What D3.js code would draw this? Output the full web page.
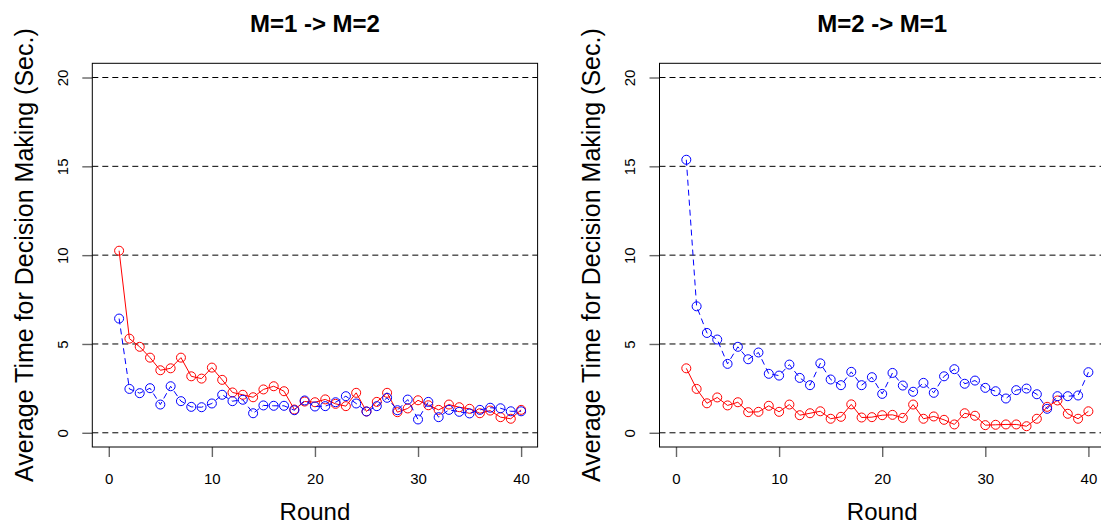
<!DOCTYPE html>
<html>
<head>
<meta charset="utf-8">
<script src="https://cdn.jsdelivr.net/npm/d3@7"></script>
<style>
  body { margin: 0; background: #fff; }
  svg { display: block; font-family: "Liberation Sans", Arial, Helvetica, sans-serif; }
</style>
</head>
<body>
<svg width="1101" height="525"></svg>
<script>
var rounds = [1, 2, 3, 4, 5, 6, 7, 8, 9, 10, 11, 12, 13, 14, 15, 16, 17, 18, 19, 20,
              21, 22, 23, 24, 25, 26, 27, 28, 29, 30, 31, 32, 33, 34, 35, 36, 37, 38, 39, 40];

var xTicks = [0, 10, 20, 30, 40];
var yTicks = [0, 5, 10, 15, 20];
var titles = ["M=1 -> M=2", "M=2 -> M=1"];

// M=1 -> M=2
var leftRed = [10.25, 5.3, 4.84, 4.23, 3.52, 3.63, 4.23, 3.18, 3.05, 3.67,
               2.98, 2.27, 2.14, 2.0, 2.44, 2.62, 2.34, 1.31, 1.76, 1.72,
               1.88, 1.63, 1.5, 2.25, 1.2, 1.74, 2.25, 1.16, 1.37, 1.83,
               1.55, 1.29, 1.59, 1.44, 1.35, 1.1, 1.25, 0.88, 0.79, 1.29];
var leftBlue = [6.43, 2.47, 2.23, 2.51, 1.59, 2.62, 1.78, 1.46, 1.44, 1.65,
                2.14, 1.78, 1.86, 1.10, 1.54, 1.52, 1.52, 1.27, 1.82, 1.48,
                1.5, 1.72, 2.06, 1.65, 1.2, 1.5, 1.97, 1.27, 1.87, 0.75,
                1.74, 0.88, 1.29, 1.18, 1.09, 1.29, 1.41, 1.38, 1.21, 1.21];

// M=2 -> M=1
var rightRed = [3.63, 2.47, 1.66, 1.99, 1.54, 1.72, 1.16, 1.18, 1.52, 1.18,
                1.59, 0.99, 1.1, 1.21, 0.79, 0.9, 1.6, 0.86, 0.88, 0.99,
                1.01, 0.84, 1.59, 0.79, 0.92, 0.73, 0.47, 1.1, 0.96, 0.43,
                0.45, 0.47, 0.47, 0.37, 0.79, 1.46, 1.82, 1.07, 0.79, 1.21];
var rightBlue = [15.37, 7.12, 5.62, 5.25, 3.88, 4.84, 4.14, 4.52, 3.32, 3.22,
                 3.84, 3.09, 2.68, 3.91, 3.0, 2.68, 3.43, 2.68, 3.13, 2.19,
                 3.37, 2.66, 2.31, 2.81, 2.25, 3.18, 3.58, 2.76, 2.94, 2.53,
                 2.34, 1.93, 2.4, 2.49, 2.17, 1.35, 2.06, 2.06, 2.1, 3.41];

(function () {
  'use strict';

  var svg = d3.select("svg"),
      top = 63.3,
      bottom = 447;

  var panels = [
    { left: 92.3, right: 537.6, title: titles[0], red: leftRed, blue: leftBlue },
    { left: 659.5, right: 1104.9, title: titles[1], red: rightRed, blue: rightBlue }
  ];

  var y = d3.scaleLinear().domain([-0.8, 20.8]).range([bottom, top]);

  panels.forEach(drawPanel);

  function drawPanel(p) {
    var x = d3.scaleLinear().domain([-1.6, 41.6]).range([p.left, p.right]);
    var g = svg.append("g");
    var cx = (p.left + p.right) / 2;

    // reference lines
    g.selectAll(".hline")
      .data(yTicks)
      .enter().append("line")
        .attr("x1", p.left).attr("x2", p.right)
        .attr("y1", function(d) { return y(d); })
        .attr("y2", function(d) { return y(d); })
        .attr("stroke", "#000")
        .attr("stroke-width", 1)
        .attr("stroke-dasharray", "6,4");

    // x axis
    var xa = g.append("g")
        .attr("transform", "translate(0," + bottom + ")")
        .call(d3.axisBottom(x).tickValues(xTicks).tickSize(10).tickPadding(16));
    xa.select(".domain").remove();
    xa.selectAll("line").attr("stroke", "#666").attr("stroke-width", 1.4);
    xa.selectAll("text").attr("font-size", 15).attr("font-family", null).attr("fill", "#000");

    // y axis
    var ya = g.append("g")
        .attr("transform", "translate(" + p.left + ",0)")
        .call(d3.axisLeft(y).tickValues(yTicks).tickSize(10));
    ya.select(".domain").remove();
    ya.selectAll("line").attr("stroke", "#666").attr("stroke-width", 1.4);
    ya.selectAll("text")
        .attr("x", null).attr("dy", null)
        .attr("transform", "translate(-24.5,0) rotate(-90)")
        .attr("text-anchor", "middle")
        .attr("font-size", 15).attr("font-family", null).attr("fill", "#000");

    // box
    g.append("rect")
        .attr("x", p.left).attr("y", top)
        .attr("width", p.right - p.left).attr("height", bottom - top)
        .attr("fill", "none").attr("stroke", "#000").attr("stroke-width", 1);

    drawSeries(g, x, p.red, "#ff0000", null);
    drawSeries(g, x, p.blue, "#0000ff", "6,4");

    g.append("text")
        .attr("x", cx).attr("y", 32)
        .attr("text-anchor", "middle")
        .attr("font-size", 24).attr("font-weight", "bold")
        .text(p.title);

    g.append("text")
        .attr("x", cx).attr("y", 520)
        .attr("text-anchor", "middle")
        .attr("font-size", 24)
        .text("Round");

    g.append("text")
        .attr("transform", "translate(" + (p.left - 59.3) + "," + ((top + bottom) / 2) + ") rotate(-90)")
        .attr("text-anchor", "middle")
        .attr("font-size", 25)
        .text("Average Time for Decision Making (Sec.)");
  }

  function drawSeries(g, x, values, color, dash) {
    var pts = rounds.map(function(r, i) { return [r, values[i]]; });
    var line = d3.line()
        .x(function(d) { return x(d[0]); })
        .y(function(d) { return y(d[1]); });

    g.append("path")
        .attr("d", line(pts))
        .attr("fill", "none")
        .attr("stroke", color)
        .attr("stroke-width", 1)
        .attr("stroke-dasharray", dash);

    g.selectAll(null)
      .data(pts)
      .enter().append("circle")
        .attr("cx", function(d) { return x(d[0]); })
        .attr("cy", function(d) { return y(d[1]); })
        .attr("r", 4.5)
        .attr("fill", "none")
        .attr("stroke", color)
        .attr("stroke-width", 1);
  }
}());
</script>
</body>
</html>
